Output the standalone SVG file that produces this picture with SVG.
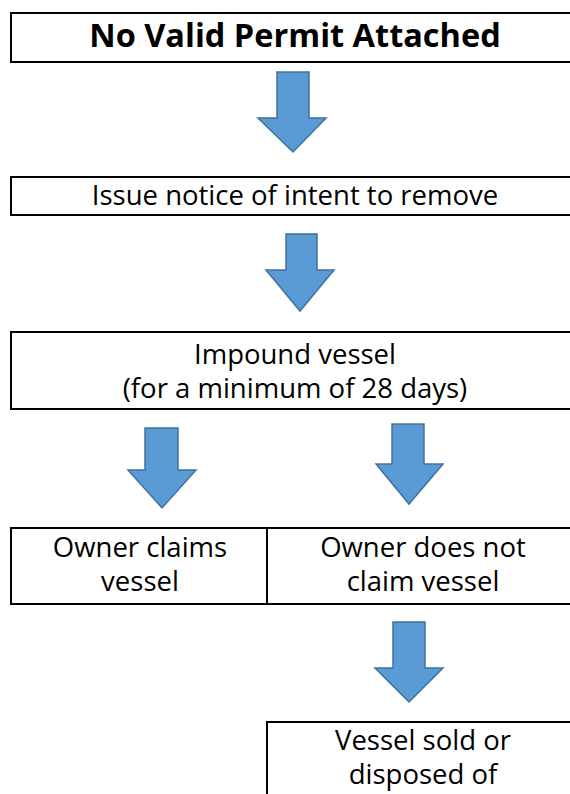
<svg xmlns="http://www.w3.org/2000/svg" width="570" height="794" viewBox="0 0 570 794">
<style>
.box{fill:#fff;stroke:#000;stroke-width:2}
.t{font-family:"Open Sans","Noto Sans",sans-serif;font-size:27.5px;fill:#000;text-anchor:middle}
.b{font-weight:bold;font-size:32.5px}
.arr{fill:#5B9BD5;stroke:#41719C;stroke-width:1.5;stroke-linejoin:miter}
</style>
<rect width="570" height="794" fill="#fff"/>
<g id="connectors">
<path class="arr" d="M277,72 H309 V118 H326 L293,152 L258,118 H277 Z"/>
<path class="arr" d="M286,234 H317 V270 H334 L300,311 L266,270 H286 Z"/>
<path class="arr" d="M145,428 H178 V470 H196 L162,508 L128,470 H145 Z"/>
<path class="arr" d="M392,424 H424 V464 H443 L409,504 L376,464 H392 Z"/>
<path class="arr" d="M393,622 H425 V668 H443 L409,702 L375,668 H393 Z"/>
</g>
<g id="n1">
<rect class="box" x="11" y="13" width="570" height="49"/>
<text class="t b" x="295" y="47">No Valid Permit Attached</text>
</g>
<g id="n2">
<rect class="box" x="11" y="177" width="570" height="38"/>
<text class="t" x="295" y="205">Issue notice of intent to remove</text>
</g>
<g id="n3">
<rect class="box" x="11" y="332" width="570" height="77"/>
<text class="t" x="295" y="364">Impound vessel</text>
<text class="t" x="295" y="398">(for a minimum of 28 days)</text>
</g>
<g id="n4">
<rect class="box" x="11" y="528" width="256" height="76"/>
<text class="t" x="140" y="557">Owner claims</text>
<text class="t" x="140" y="591">vessel</text>
</g>
<g id="n5">
<rect class="box" x="267" y="528" width="314" height="76"/>
<text class="t" x="423" y="557">Owner does not</text>
<text class="t" x="423" y="591">claim vessel</text>
</g>
<g id="n6">
<rect class="box" x="267" y="722" width="314" height="90"/>
<text class="t" x="423" y="750">Vessel sold or</text>
<text class="t" x="423" y="784">disposed of</text>
</g>
</svg>
